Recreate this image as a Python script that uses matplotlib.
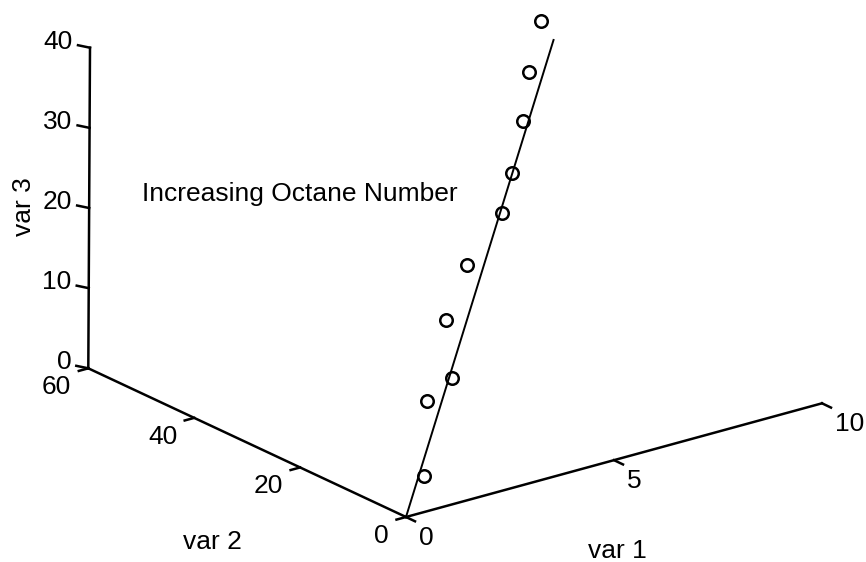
import numpy as np
import matplotlib
matplotlib.use("Agg")
import matplotlib.pyplot as plt

# ---- data ----
var1 = [0.82, 1.25, 2.23, 2.46, 3.35, 4.58, 5.20, 5.83, 6.36, 7.02]
var2 = [3, 6, 9, 12, 15, 18, 21, 24, 27, 30]
var3 = [3.03, 10.84, 11.36, 17.37, 22.06, 25.83, 29.01, 33.76, 38.19, 42.69]
fit_var1 = [0, 7.58]
fit_var2 = [0, 32]
fit_var3 = [0, 38.87]
var1_ticks = [0, 5, 10]
var2_ticks = [0, 20, 40, 60]
var3_ticks = [0, 10, 20, 30, 40]
annotation = "Increasing Octane Number"

# ---- projection (layout) ----
ORIGIN = np.array([406.0, 517.0])
E1 = np.array([41.6, -11.37])
E2 = np.array([-5.295, -2.478])
E3 = np.array([0.0425, -8.015])


def proj(a, b, c):
    a = np.asarray(a, float); b = np.asarray(b, float); c = np.asarray(c, float)
    x = ORIGIN[0] + E1[0] * a + E2[0] * b + E3[0] * c
    y = ORIGIN[1] + E1[1] * a + E2[1] * b + E3[1] * c
    return x, y


plt.rcParams['font.family'] = ['Liberation Sans', 'DejaVu Sans']
fig = plt.figure(figsize=(8.66, 5.62), dpi=100)
ax = fig.add_axes([0, 0, 1, 1])
ax.set_xlim(0, 866)
ax.set_ylim(562, 0)
ax.axis('off')

LW = 1.8
FS = 19
col = 'black'

v1max, v2max, v3max = var1_ticks[-1], var2_ticks[-1], var3_ticks[-1]

# axes lines
x, y = proj([0, v1max], [0, 0], [0, 0])
ax.plot(x, y, color=col, lw=LW)
x, y = proj([0, 0], [0, v2max], [0, 0])
ax.plot(x, y, color=col, lw=LW)
x, y = proj([0, 0], [v2max, v2max], [0, v3max])
ax.plot(x, y, color=col, lw=LW)

# ticks and labels
T1 = np.array([9.0, 4.3])
T2 = np.array([-9.5, 2.6])
T3 = np.array([-12.0, -2.5])
for t in var1_ticks:
    px, py = proj(t, 0, 0)
    ax.plot([px, px + T1[0]], [py, py + T1[1]], color=col, lw=LW)
    ax.text(px + 13, py + 21, str(t), ha='left', va='center', fontsize=FS)
for t in var2_ticks:
    px, py = proj(0, t, 0)
    ax.plot([px, px + T2[0]], [py, py + T2[1]], color=col, lw=LW)
    ax.text(px - 17, py + 19, str(t), ha='right', va='center', fontsize=FS)
for t in var3_ticks:
    px, py = proj(0, v2max, t)
    ax.plot([px, px + T3[0]], [py, py + T3[1]], color=col, lw=LW)
    ax.text(px - 17, py - 6, str(t), ha='right', va='center', fontsize=FS)

# axis labels
ax.text(617, 551, 'var 1', ha='center', va='center', fontsize=FS)
ax.text(212, 542, 'var 2', ha='center', va='center', fontsize=FS)
ax.text(24, 207, 'var 3', ha='center', va='center', rotation=90, fontsize=FS)

# fitted line and points
x, y = proj(fit_var1, fit_var2, fit_var3)
ax.plot(x, y, color=col, lw=1.4)
x, y = proj(var1, var2, var3)
ax.plot(x, y, linestyle='none', marker='o', markersize=9, markerfacecolor='none',
        markeredgecolor=col, markeredgewidth=1.8)

ax.text(300, 201, annotation, ha='center', va='baseline', fontsize=19)

fig.savefig('out.png', dpi=100)
